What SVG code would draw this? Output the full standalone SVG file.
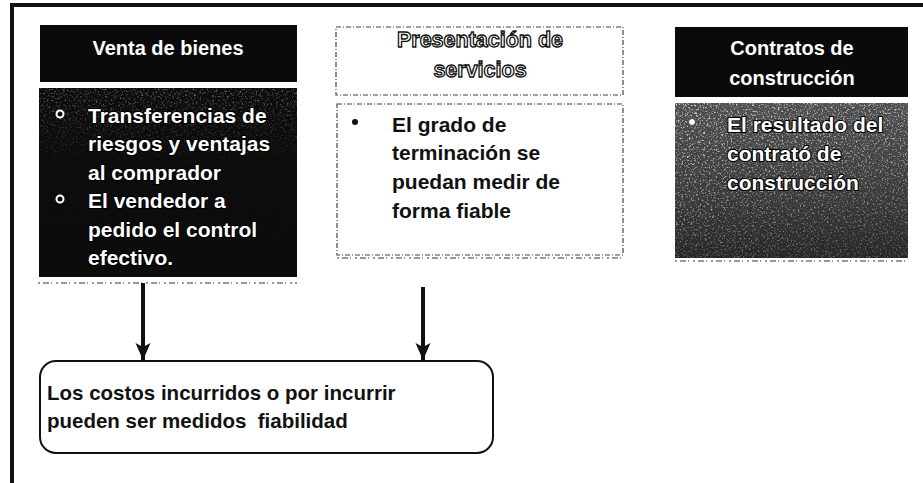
<svg xmlns="http://www.w3.org/2000/svg" width="923" height="483" viewBox="0 0 923 483">
  <style>
    text { font-family: "Liberation Sans", Arial, sans-serif; font-weight: bold; }
    .hdr { font-size: 20px; fill: #ffffff; text-anchor: middle; }
    .inv { font-size: 21px; fill: #ffffff; stroke: #000; stroke-width: 2.2; paint-order: stroke; stroke-linejoin: round; }
    .blk { font-size: 21px; fill: #111111; }
    .outl { font-size: 21.5px; fill: #ffffff; stroke: #111; stroke-width: 1.3; text-anchor: middle; }
    .dash { fill: #ffffff; stroke: #444; stroke-width: 1.2; stroke-dasharray: 5 2 1 2; }
    .dots { stroke: #777; stroke-width: 1.5; stroke-dasharray: 2 3 6 2 1 4; fill: none; }
    .conn { stroke: #111; stroke-width: 4; fill: none; }
  </style>
  <defs>
    <marker id="ah" markerUnits="userSpaceOnUse" markerWidth="18" markerHeight="18" viewBox="0 0 18 18" refX="17" refY="9" orient="auto">
      <path d="M0,1.5 L17,9 L0,16.5 L4,9 Z" fill="#111"/>
    </marker>
    <linearGradient id="g3" x1="0" y1="0" x2="0" y2="1">
      <stop offset="0" stop-color="#505050"/>
      <stop offset="0.6" stop-color="#3a3a3a"/>
      <stop offset="1" stop-color="#262626"/>
    </linearGradient>
    <linearGradient id="sp3" x1="0" y1="0" x2="0.3" y2="1">
      <stop offset="0" stop-color="#fff" stop-opacity="0.8"/>
      <stop offset="1" stop-color="#fff" stop-opacity="0.3"/>
    </linearGradient>
    <linearGradient id="sp1" x1="0" y1="0" x2="0" y2="1">
      <stop offset="0" stop-color="#fff" stop-opacity="0.35"/>
      <stop offset="0.4" stop-color="#fff" stop-opacity="0.03"/>
      <stop offset="1" stop-color="#fff" stop-opacity="0"/>
    </linearGradient>
    <linearGradient id="bot" x1="0" y1="0" x2="1" y2="0">
      <stop offset="0" stop-color="#222"/>
      <stop offset="0.35" stop-color="#555"/>
      <stop offset="0.45" stop-color="#bbb"/>
      <stop offset="1" stop-color="#ccc"/>
    </linearGradient>
    <filter id="speck" x="0" y="0" width="1" height="1" color-interpolation-filters="sRGB">
      <feTurbulence type="fractalNoise" baseFrequency="0.55" numOctaves="3" seed="7" result="n"/>
      <feColorMatrix in="n" type="matrix" values="0 0 0 0 1  0 0 0 0 1  0 0 0 0 1  4 0 0 0 -2.1" result="d"/>
      <feComposite in="d" in2="SourceGraphic" operator="in"/>
    </filter>
  </defs>

  <rect x="0" y="0" width="923" height="483" fill="#ffffff"/>

  <g id="frame">
    <line x1="10" y1="5" x2="923" y2="5" stroke="#111" stroke-width="4"/>
    <line x1="12" y1="3" x2="12" y2="483" stroke="#111" stroke-width="4"/>
    <line x1="10" y1="481" x2="923" y2="481" stroke="url(#bot)" stroke-width="2.5"/>
  </g>

  <g id="venta-de-bienes">
    <rect x="40" y="25" width="257" height="57" fill="#0a0a0a"/>
    <text class="hdr" x="168" y="55">Venta de bienes</text>
    <rect x="39" y="88" width="258" height="189" fill="#0c0c0c"/>
    <rect x="39" y="88" width="258" height="189" fill="url(#sp1)" filter="url(#speck)"/>
    <line class="dots" x1="38" y1="283" x2="297" y2="283"/>
    <circle cx="60" cy="114" r="3.5" fill="none" stroke="#fff" stroke-width="2"/>
    <circle cx="60" cy="199" r="3.5" fill="none" stroke="#fff" stroke-width="2"/>
    <text class="inv" x="88" y="123">Transferencias de</text>
    <text class="inv" x="88" y="151">riesgos y ventajas</text>
    <text class="inv" x="88" y="180">al comprador</text>
    <text class="inv" x="88" y="208">El vendedor a</text>
    <text class="inv" x="88" y="237">pedido el control</text>
    <text class="inv" x="88" y="265">efectivo.</text>
  </g>

  <g id="presentacion-de-servicios">
    <rect class="dash" x="336" y="27" width="287" height="68"/>
    <text class="outl" x="480" y="47">Presentación de</text>
    <text class="outl" x="480" y="77">servicios</text>
    <rect class="dash" x="337" y="104" width="286" height="151"/>
    <line class="dots" x1="337" y1="258" x2="623" y2="258"/>
    <circle cx="355" cy="122" r="3" fill="#111"/>
    <text class="blk" x="392" y="132">El grado de</text>
    <text class="blk" x="392" y="160">terminación se</text>
    <text class="blk" x="392" y="189">puedan medir de</text>
    <text class="blk" x="392" y="218">forma fiable</text>
  </g>

  <g id="contratos-de-construccion">
    <rect x="675" y="27" width="233" height="70" fill="#0a0a0a"/>
    <text class="hdr" x="792" y="55">Contratos de</text>
    <text class="hdr" x="792" y="85">construcción</text>
    <rect x="675" y="103" width="233" height="155" fill="url(#g3)"/>
    <rect x="675" y="103" width="233" height="155" fill="url(#sp3)" filter="url(#speck)"/>
    <line class="dots" x1="675" y1="261" x2="908" y2="261"/>
    <circle cx="692" cy="122" r="3.5" fill="#fff" stroke="#222" stroke-width="0.8"/>
    <text class="inv" x="727" y="132">El resultado del</text>
    <text class="inv" x="727" y="161">contrató de</text>
    <text class="inv" x="727" y="190">construcción</text>
  </g>

  <g id="costos">
    <rect x="40" y="361" width="453" height="92" rx="16" ry="16" fill="#fff" stroke="#111" stroke-width="2"/>
    <text class="blk" x="47" y="400" style="font-size:20.5px">Los costos incurridos o por incurrir</text>
    <text class="blk" x="47" y="428" style="font-size:20.5px" xml:space="preserve">pueden ser medidos  fiabilidad</text>
  </g>

  <g id="connectors">
    <line class="conn" x1="143" y1="283" x2="143" y2="360" marker-end="url(#ah)"/>
    <line class="conn" x1="423" y1="287" x2="423" y2="360" marker-end="url(#ah)"/>
  </g>
</svg>
